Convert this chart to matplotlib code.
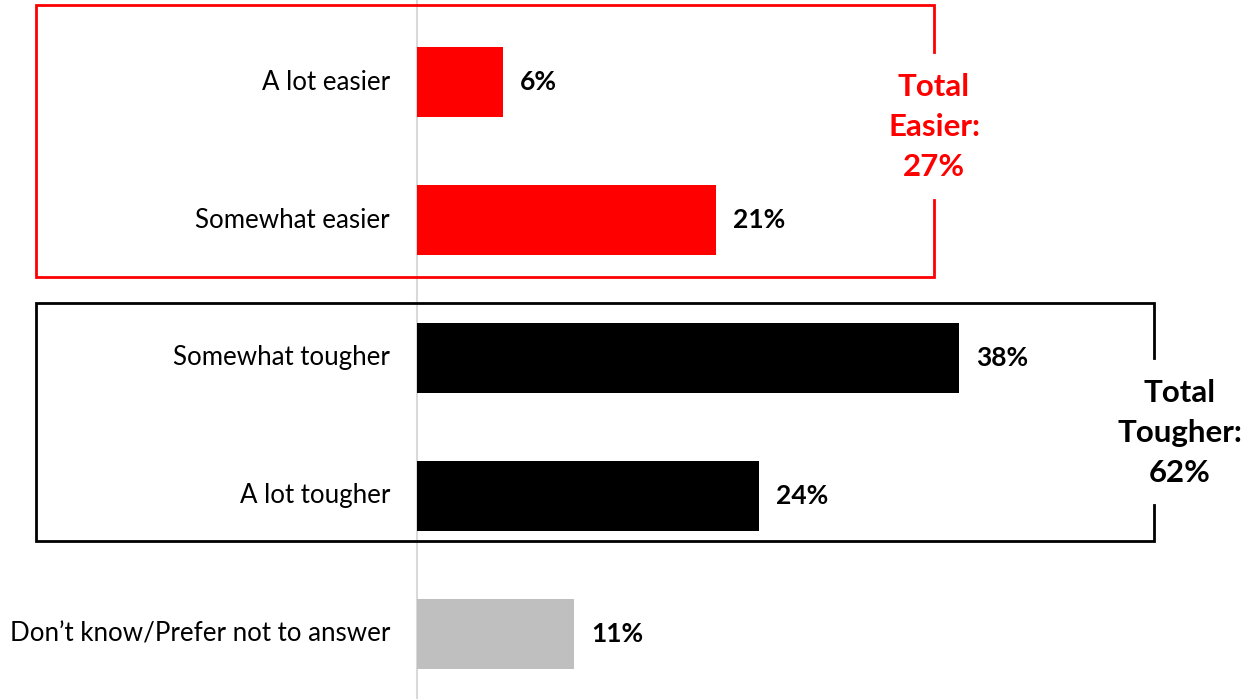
import numpy as np
import matplotlib
matplotlib.use('Agg')
import matplotlib.pyplot as plt

plt.rcParams['font.family'] = ['Lato', 'DejaVu Sans']

#answer categories, top to bottom
categories = ['A lot easier', 'Somewhat easier', 'Somewhat tougher', 'A lot tougher',
              'Don\u2019t know/Prefer not to answer']
#share of respondents [%]
values = np.array([6, 21, 38, 24, 11])
colors = ['#FF0000', '#FF0000', '#000000', '#000000', '#BFBFBF']
#group totals
total_easier = 27
total_tougher = 62

fig = plt.figure(figsize=(12.47, 6.99), dpi=100)
ax = fig.add_axes([0, 0, 1, 1])

#pixel to data mapping: x0 at 417 px, 14.26 px per percent; rows 138 px apart, first at 82 px
ppx = 14.26
ax.set_xlim(-417/ppx, (1247-417)/ppx)
ax.set_ylim((699-82)/138, -82/138)
ax.axis('off')

def px(xp):
    return (xp - 417)/ppx

def py(yp):
    return (yp - 82)/138

y = np.arange(len(categories))
ax.barh(y, values, height=0.507, color=colors, zorder=2)
ax.axvline(0, color='#D9D9D9', lw=1.5, zorder=1)

for yi, cat, v in zip(y, categories, values):
    ax.text(-27/ppx, yi, cat, ha='right', va='center', fontsize=18.6)
    ax.text(v + 17/ppx, yi, f'{v}%', ha='left', va='center', fontsize=19, fontweight='bold')

#group outline, open on the right side where the total label sits
def group_box(x0, x1, y0, y1, gap0, gap1, color):
    ax.plot([px(x1), px(x1), px(x0), px(x0), px(x1), px(x1)],
            [py(gap0), py(y0), py(y0), py(y1), py(y1), py(gap1)],
            color=color, lw=2, solid_joinstyle='miter')

group_box(36, 934, 5, 277, 52, 200, '#FF0000')
group_box(36, 1154, 303, 541, 358, 505, '#000000')

ax.text(px(934), py(127), f'Total\nEasier:\n{total_easier}%', ha='center', va='center',
        fontsize=22.5, fontweight='bold', color='#FF0000', linespacing=1.5)
ax.text(px(1180), py(433), f'Total\nTougher:\n{total_tougher}%', ha='center', va='center',
        fontsize=22.5, fontweight='bold', color='#000000', linespacing=1.5)

fig.savefig('out.png', dpi=100)
